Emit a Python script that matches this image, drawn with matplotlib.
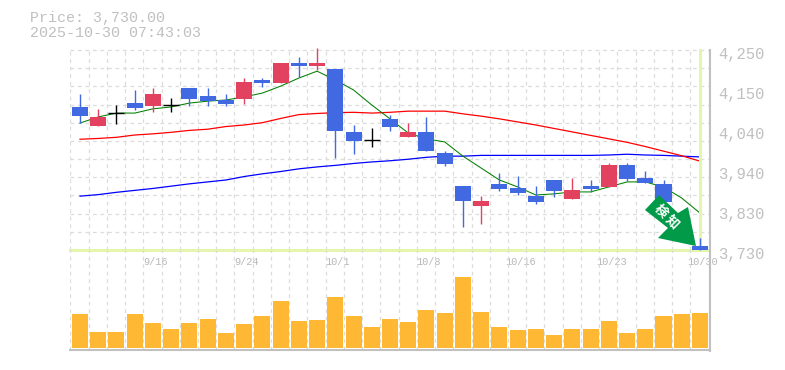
import matplotlib
matplotlib.use("Agg")
import matplotlib.pyplot as plt
from matplotlib.patches import Polygon
from matplotlib.transforms import ScaledTranslation

# daily prices
opens = [4102, 4052, 4085, 4112, 4104, 4106, 4151, 4130, 4120, 4123, 4172, 4164,
         4216, 4208, 4201, 4037, 4015, 4071, 4024, 4037, 3982, 3896, 3844, 3902,
         3891, 3870, 3912, 3863, 3896, 3894, 3951, 3917, 3902, 3808, 3740]
closes = [4078, 4076, 4085, 4099, 4136, 4106, 4123, 4117, 4110, 4167, 4164, 4216,
          4208, 4216, 4039, 4013, 4015, 4050, 4037, 3987, 3954, 3857, 3857, 3889,
          3878, 3855, 3883, 3886, 3889, 3951, 3915, 3904, 3855, 3756, 3730]
highs = [4136, 4097, 4107, 4146, 4151, 4125, 4151, 4151, 4136, 4177, 4177, 4216,
         4232, 4255, 4201, 4055, 4047, 4081, 4060, 4076, 3987, 3896, 3870, 3930,
         3922, 3896, 3912, 3917, 3912, 3956, 3956, 3935, 3912, 3825, 3761]
lows = [4060, 4052, 4058, 4094, 4089, 4089, 4104, 4104, 4104, 4110, 4154, 4164,
        4180, 4198, 3969, 3980, 3998, 4039, 4024, 3987, 3948, 3790, 3798, 3883,
        3873, 3850, 3868, 3863, 3881, 3894, 3909, 3904, 3855, 3750, 3730]

# moving averages
ma_short = [4060, 4076, 4086, 4086, 4097, 4102, 4112, 4117, 4120, 4128, 4138, 4156,
            4177, 4195, 4172, 4146, 4107, 4071, 4034, 4019, 4011, 3974, 3943, 3912,
            3894, 3873, 3876, 3881, 3881, 3894, 3907, 3907, 3894, 3865, 3826]
ma_mid = [4018, 4020, 4023, 4029, 4032, 4036, 4041, 4044, 4051, 4055, 4061, 4072,
          4082, 4085, 4087, 4088, 4086, 4088, 4091, 4091, 4091, 4084, 4078, 4071,
          4063, 4055, 4046, 4037, 4028, 4019, 4010, 3999, 3987, 3975, 3961]
ma_long = [3870, 3874, 3880, 3885, 3890, 3896, 3902, 3907, 3912, 3921, 3928, 3934,
           3941, 3946, 3950, 3955, 3959, 3962, 3966, 3971, 3974, 3974, 3976, 3976,
           3976, 3976, 3976, 3976, 3976, 3977, 3979, 3977, 3976, 3974, 3972]

volumes = [34, 16, 16, 34, 25, 19, 25, 29, 15, 24, 32, 47, 27, 28, 51, 32, 21, 29,
           26, 38, 35, 71, 36, 21, 18, 19, 13, 19, 19, 27, 15, 19, 32, 34, 35]

price_ticks = [4250, 4146, 4042, 3938, 3834, 3730]
price_labels = ["4,250", "4,150", "4,040", "3,940", "3,830", "3,730"]
date_ticks = [4, 9, 14, 19, 24, 29, 34]
date_labels = ["9/16", "9/24", "10/1", "10/8", "10/16", "10/23", "10/30"]

BLUE = "#4169e1"
RED = "#e34160"
GRAY = "#c0c0c0"
GRID = "#dcdcdc"
LIME = "#e4f5ac"
MONO = "Liberation Mono"

W, H = 785, 370
STEP = 18.235  # pixels from one candle to the next
fig = plt.figure(figsize=(W / 100, H / 100), dpi=100)
ax = fig.add_axes([70 / W, 1 - 250 / H, 640 / W, 200 / H])
vol = fig.add_axes([70 / W, 1 - 350 / H, 640 / W, 100 / H])

xs = list(range(len(opens)))

# grid first, everything else goes on top
for a in (ax, vol):
    a.set_xlim(-10 / STEP, 630 / STEP)
    a.patch.set_alpha(0)
    for s in a.spines.values():
        s.set_visible(False)
    for i in range(36):
        a.axvline(i - 0.53, color=GRID, lw=0.9, ls=(0, (3, 3)), zorder=0)

ax.set_ylim(3730, 4250)
for i in range(12):
    ax.axhline(3730 + i * 520 / 11, color=GRID, lw=0.9, ls=(0, (3, 3)), zorder=0, clip_on=False)

ax.plot(xs, ma_long, color="#0000ff", lw=0.9, zorder=2)
ax.plot(xs, ma_mid, color="#ff0000", lw=0.9, zorder=2)
ax.plot(xs, ma_short, color="#008000", lw=0.75, zorder=2)

# light green crosshair on the last price
ax.axhline(closes[-1], color=LIME, lw=2.2, zorder=3, clip_on=False, xmax=638 / 640)
ax.axvline(xs[-1], color=LIME, lw=2.2, zorder=3, clip_on=False)

# candles
for x, o, c, h, l in zip(xs, opens, closes, highs, lows):
    if o == c:
        col = "black"
    elif c > o:
        col = RED
    else:
        col = BLUE
    ax.vlines(x, l, h, color=col, lw=1.0, zorder=4, clip_on=False)
    if o == c:
        ax.hlines(o, x - 0.44, x + 0.44, color=col, lw=1.0, zorder=4)
    else:
        ax.bar(x, abs(c - o), bottom=min(o, c), width=0.88, color=col, zorder=4, clip_on=False)

ax.set_xticks(date_ticks)
ax.set_xticklabels(date_labels, family=MONO, fontsize=7.4, color="#b8b8b8")
ax.tick_params(axis="x", length=0, pad=5)
for t in ax.get_xticklabels():
    t.set_transform(t.get_transform() + ScaledTranslation(2.5 / 100, 0, fig.dpi_scale_trans))
ax.yaxis.tick_right()
ax.set_yticks(price_ticks)
ax.set_yticklabels(price_labels, family=MONO, fontsize=11.2, color=GRAY)
ax.tick_params(axis="y", length=0, pad=6)
for t in ax.get_yticklabels():
    t.set_verticalalignment("top")
    t.set_transform(t.get_transform() + ScaledTranslation(0, 2.5 / 72, fig.dpi_scale_trans))

# volume panel
vol.set_ylim(-2, 98)
vol.bar(xs, volumes, width=0.88, color="#ffb833", zorder=2)
vol.set_xticks([])
vol.set_yticks([])
vol.spines["bottom"].set_visible(True)
vol.spines["bottom"].set_color(GRAY)
vol.spines["bottom"].set_linewidth(1.5)

# right border runs through both panels
fig.add_artist(plt.Line2D([710 / W, 710 / W], [1 - 50 / H, 1 - 351 / H], color=GRAY, lw=1.5))

fig.text(30 / W, 1 - 18 / H, "Price: 3,730.00", family=MONO, fontsize=10.8, color=GRAY, va="center")
fig.text(30 / W, 1 - 33 / H, "2025-10-30 07:43:03", family=MONO, fontsize=10.8, color=GRAY, va="center")

# signal arrow, placed relative to the last candle (pixels, y up)
tip_x, tip_y = ax.transData.transform((xs[-1], closes[-1]))
outline = [(-4, 4), (-42, 12), (-32, 22), (-55, 40), (-41, 55), (-22, 37), (-12, 43)]
arrow_pts = [(tip_x + dx, tip_y + dy) for dx, dy in outline]
fig.add_artist(Polygon(arrow_pts, closed=True, facecolor="#009a49", edgecolor="none",
                       transform=None, zorder=6))
cjk = ["Noto Sans CJK JP", "DejaVu Sans"]
fig.text(661 / W, 1 - 211 / H, "検", family=cjk, fontsize=9.5,
         fontweight="bold", color="white", rotation=-45, ha="center", va="center", zorder=7)
fig.text(672 / W, 1 - 222 / H, "知", family=cjk, fontsize=9.5,
         fontweight="bold", color="white", rotation=-45, ha="center", va="center", zorder=7)

fig.savefig("out.png", dpi=100)
